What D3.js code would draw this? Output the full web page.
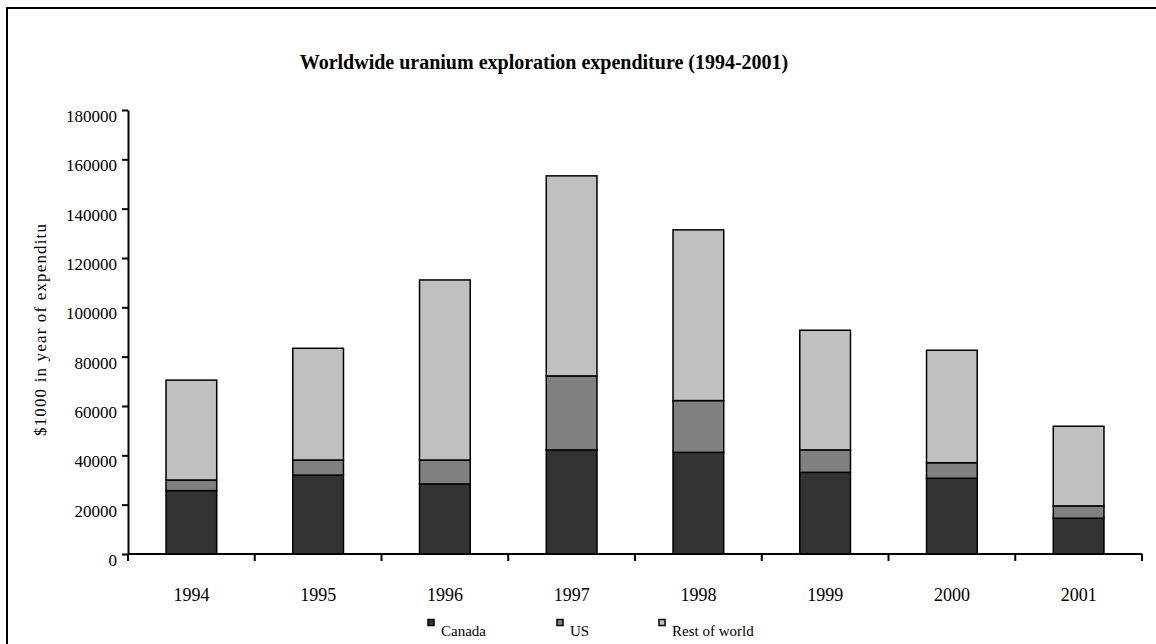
<!DOCTYPE html>
<html>
<head>
<meta charset="utf-8">
<script src="https://cdn.jsdelivr.net/npm/d3@7"></script>
<style>
  html, body { margin: 0; padding: 0; background: #fff; }
  svg { display: block; font-family: "Liberation Serif", "Times New Roman", serif; }
</style>
</head>
<body>
<svg id="chart" width="1156" height="644"></svg>
<script>
// Exploration expenditure, $1000 in year of expenditure
const years = ["1994", "1995", "1996", "1997", "1998", "1999", "2000", "2001"];
const canada = [25700, 32000, 28400, 42200, 41200, 33100, 30700, 14500];
const us = [4300, 6100, 9700, 30000, 21000, 9100, 6300, 5000];
const restOfWorld = [40500, 45300, 73000, 81100, 69200, 48500, 45600, 32300];
const seriesNames = ["Canada", "US", "Rest of world"];
const seriesColors = ["#333333", "#808080", "#c0c0c0"];
const yTicks = [0, 20000, 40000, 60000, 80000, 100000, 120000, 140000, 160000, 180000];

const svg = d3.select("#chart");
const margin = { left: 128, right: 1142, top: 110, bottom: 554 };

// outer frame (top and left edges visible inside the window)
svg.append("rect")
  .attr("x", 7).attr("y", 8)
  .attr("width", 1200).attr("height", 700)
  .attr("fill", "none").attr("stroke", "#000").attr("stroke-width", 2);

svg.append("text")
  .attr("x", 544).attr("y", 69)
  .attr("text-anchor", "middle")
  .attr("font-weight", "bold")
  .attr("font-size", 20)
  .text("Worldwide uranium exploration expenditure (1994-2001)");

const x = d3.scaleBand().domain(years)
  .range([margin.left, margin.right])
  .paddingInner(0.6).paddingOuter(0.3);
const y = d3.scaleLinear().domain([0, 180000]).range([margin.bottom, margin.top]);

const rows = years.map((yr, i) => ({
  year: yr,
  "Canada": canada[i],
  "US": us[i],
  "Rest of world": restOfWorld[i]
}));
const stacked = d3.stack().keys(seriesNames)(rows);

svg.append("g")
  .selectAll("g")
  .data(stacked)
  .join("g")
  .attr("fill", (d, i) => seriesColors[i])
  .selectAll("rect")
  .data(d => d)
  .join("rect")
  .attr("x", d => x(d.data.year))
  .attr("width", x.bandwidth())
  .attr("y", d => y(d[1]))
  .attr("height", d => y(d[0]) - y(d[1]))
  .attr("stroke", "#000")
  .attr("stroke-width", 1.5);

// y axis
const yAxis = svg.append("g")
  .attr("transform", `translate(${margin.left},0)`)
  .call(d3.axisLeft(y).tickValues(yTicks).tickFormat(d3.format("d")).tickSize(6).tickPadding(5).tickSizeOuter(0));
yAxis.select(".domain").attr("stroke-width", 2);
yAxis.selectAll(".tick line").attr("stroke-width", 2);
yAxis.selectAll("text")
  .attr("font-size", 17)
  .attr("font-family", "Liberation Serif, serif")
  .attr("fill", "#000")
  .attr("transform", "translate(0,6)");

// x axis with ticks between categories
const xAxisG = svg.append("g").attr("transform", `translate(0,${margin.bottom})`);
xAxisG.append("line")
  .attr("x1", margin.left).attr("x2", margin.right)
  .attr("stroke", "#000").attr("stroke-width", 2);
const step = x.step();
const boundaries = d3.range(years.length + 1).map(i => margin.left + i * step);
xAxisG.selectAll("line.tk").data(boundaries).join("line")
  .attr("class", "tk")
  .attr("x1", d => d).attr("x2", d => d)
  .attr("y1", 0).attr("y2", 7)
  .attr("stroke", "#000").attr("stroke-width", 2);
xAxisG.selectAll("text").data(years).join("text")
  .attr("x", d => x(d) + x.bandwidth() / 2)
  .attr("y", 47)
  .attr("text-anchor", "middle")
  .attr("font-size", 18)
  .text(d => d);

// y axis title
svg.append("text")
  .attr("transform", "translate(46,330) rotate(-90)")
  .attr("text-anchor", "middle")
  .attr("font-size", 17)
  .attr("textLength", 212)
  .attr("lengthAdjust", "spacing")
  .text("$1000 in year of expenditu");

// legend
const legendX = [428, 557, 659];
const legend = svg.append("g");
seriesNames.forEach((name, i) => {
  legend.append("rect")
    .attr("x", legendX[i]).attr("y", 619.5)
    .attr("width", 6).attr("height", 6)
    .attr("fill", seriesColors[i])
    .attr("stroke", "#000").attr("stroke-width", 1.5);
  legend.append("text")
    .attr("x", legendX[i] + 13).attr("y", 636)
    .attr("font-size", 15)
    .text(name);
});
</script>
</body>
</html>
